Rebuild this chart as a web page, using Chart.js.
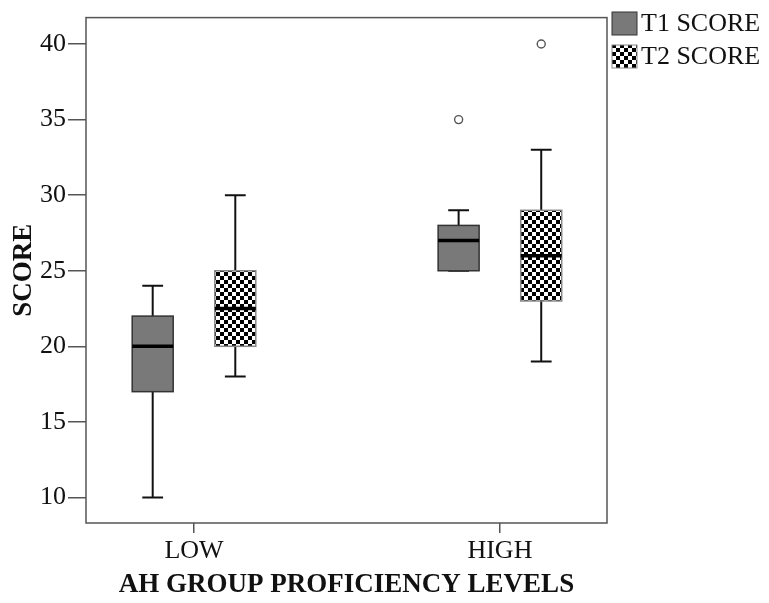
<!DOCTYPE html>
<html>
<head>
<meta charset="utf-8">
<script src="https://cdn.jsdelivr.net/npm/chart.js@4.4.1/dist/chart.umd.min.js"></script>
<style>
  html, body { margin: 0; padding: 0; background: #fff; }
</style>
</head>
<body>
<canvas id="chart" width="769" height="603"></canvas>
<script>
const categories = ['LOW', 'HIGH'];
const seriesNames = ['T1 SCORE', 'T2 SCORE'];
// box plot stats, one value per category
const t1Min = [10, 25];
const t1Q1 = [17, 25];
const t1Median = [20, 27];
const t1Q3 = [22, 28];
const t1Max = [24, 29];
const t1Outliers = [[], [35]];
const t2Min = [18, 19];
const t2Q1 = [20, 23];
const t2Median = [22.5, 26];
const t2Q3 = [25, 29];
const t2Max = [30, 33];
const t2Outliers = [[], [40]];
const yTicks = [10, 15, 20, 25, 30, 35, 40];

const SERIF = '"Liberation Serif", "DejaVu Serif", serif';
const OFFSET = 0.135;   // group offset of each box from the category
const HALF = 0.067;     // half box width
const CAP = 0.034;      // half whisker cap width

// checkered fill used by the T2 boxes
function makeChecker(){
    const c = document.createElement('canvas');
    c.width = 8; c.height = 8;
    const g = c.getContext('2d');
    g.fillStyle = '#fff'; g.fillRect(0, 0, 8, 8);
    g.fillStyle = '#000';
    g.fillRect(0, 0, 4, 4); g.fillRect(4, 4, 4, 4);
    return document.getElementById('chart').getContext('2d').createPattern(c, 'repeat');
}
const checker = makeChecker();

const series = [
    {name: seriesNames[0], min: t1Min, q1: t1Q1, med: t1Median, q3: t1Q3, max: t1Max, out: t1Outliers,
     dx: -OFFSET, fill: '#797979', stroke: '#333'},
    {name: seriesNames[1], min: t2Min, q1: t2Q1, med: t2Median, q3: t2Q3, max: t2Max, out: t2Outliers,
     dx: OFFSET, fill: checker, stroke: '#888'}
];

const boxPlugin = {
    id: 'boxes',
    beforeDatasetsDraw(chart){
        const {ctx, scales: {x, y}} = chart;
        ctx.save();
        series.forEach(s => {
            categories.forEach((c, i) => {
                const cx = i + s.dx;
                const px = x.getPixelForValue(cx);
                const l = x.getPixelForValue(cx - HALF), r = x.getPixelForValue(cx + HALF);
                const cl = x.getPixelForValue(cx - CAP), cr = x.getPixelForValue(cx + CAP);
                const yMin = y.getPixelForValue(s.min[i]), yMax = y.getPixelForValue(s.max[i]);
                const yQ1 = y.getPixelForValue(s.q1[i]), yQ3 = y.getPixelForValue(s.q3[i]);
                const yMed = y.getPixelForValue(s.med[i]);
                ctx.strokeStyle = '#111';
                ctx.lineWidth = 2;
                ctx.beginPath();
                ctx.moveTo(px, yMax); ctx.lineTo(px, yQ3);
                ctx.moveTo(px, yQ1); ctx.lineTo(px, yMin);
                ctx.moveTo(cl, yMax); ctx.lineTo(cr, yMax);
                ctx.moveTo(cl, yMin); ctx.lineTo(cr, yMin);
                ctx.stroke();
                ctx.fillStyle = s.fill;
                ctx.fillRect(l, yQ3, r - l, yQ1 - yQ3);
                ctx.strokeStyle = s.stroke;
                ctx.lineWidth = 1.5;
                ctx.strokeRect(l, yQ3, r - l, yQ1 - yQ3);
                ctx.strokeStyle = '#000';
                ctx.lineWidth = 3.5;
                ctx.beginPath();
                ctx.moveTo(l, yMed); ctx.lineTo(r, yMed);
                ctx.stroke();
            });
        });
        ctx.restore();
    },
    afterDraw(chart){
        const {ctx, chartArea: a} = chart;
        ctx.save();
        // plot frame
        ctx.strokeStyle = '#555';
        ctx.lineWidth = 1.5;
        ctx.strokeRect(a.left, a.top, a.right - a.left, a.bottom - a.top);
        // legend
        ctx.font = '26px ' + SERIF;
        ctx.textBaseline = 'middle';
        series.forEach((s, i) => {
            const top = 12 + i * 33;
            ctx.fillStyle = s.fill;
            ctx.fillRect(612, top, 25, 23);
            ctx.strokeStyle = s.stroke;
            ctx.lineWidth = 1;
            ctx.strokeRect(612, top, 25, 23);
            ctx.fillStyle = '#111';
            ctx.fillText(s.name, 641, top + 12);
        });
        ctx.restore();
    }
};

const datasets = series.map(s => ({
    label: s.name,
    data: s.out.flatMap((vals, i) => vals.map(v => ({x: i + s.dx, y: v}))),
    pointRadius: 4,
    pointBackgroundColor: '#fff',
    pointBorderColor: '#555',
    pointBorderWidth: 1.4
}));

new Chart(document.getElementById('chart'), {
    type: 'scatter',
    data: {datasets},
    plugins: [boxPlugin],
    options: {
        responsive: false,
        animation: false,
        devicePixelRatio: 1,
        layout: {padding: {top: 7, right: 162, left: 0, bottom: 0}},
        plugins: {legend: {display: false}, tooltip: {enabled: false}},
        scales: {
            x: {
                type: 'linear',
                min: -0.353,
                max: 1.35,
                afterBuildTicks: s => { s.ticks = categories.map((c, i) => ({value: i})); },
                afterFit: s => { s.height = 80; },
                grid: {drawOnChartArea: false, drawTicks: true, tickLength: 10, color: '#555', lineWidth: 1.5},
                border: {display: false},
                ticks: {
                    callback: v => categories[v],
                    font: {family: SERIF, size: 26},
                    color: '#111',
                    padding: 3,
                    maxRotation: 0
                },
                title: {
                    display: true,
                    text: 'AH GROUP PROFICIENCY LEVELS',
                    font: {family: SERIF, size: 27, weight: 'bold'},
                    color: '#111',
                    padding: {top: 0, bottom: 2}
                }
            },
            y: {
                min: 8.31,
                max: 41.75,
                afterBuildTicks: s => { s.ticks = yTicks.map(v => ({value: v})); },
                afterFit: s => { s.width = 86; },
                grid: {drawOnChartArea: false, drawTicks: true, tickLength: 18, color: '#555', lineWidth: 1.5},
                border: {display: false},
                ticks: {
                    font: {family: SERIF, size: 26},
                    color: '#111',
                    padding: 2
                },
                title: {
                    display: true,
                    text: 'SCORE',
                    font: {family: SERIF, size: 27, weight: 'bold'},
                    color: '#111',
                    padding: {top: 8, bottom: 0}
                }
            }
        }
    }
});
</script>
</body>
</html>
